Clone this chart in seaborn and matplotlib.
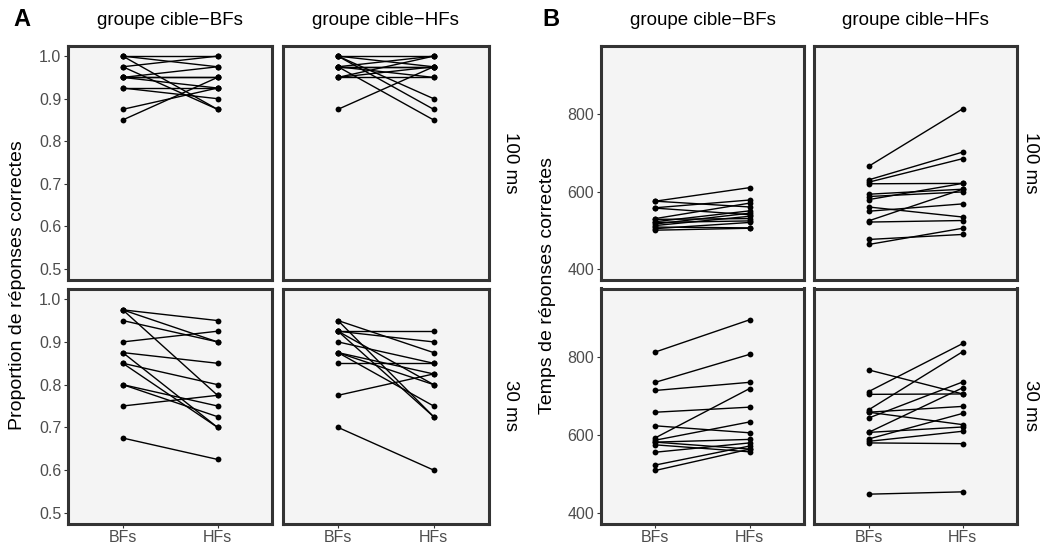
import matplotlib
matplotlib.use("Agg")
import matplotlib.pyplot as plt
import seaborn as sns
import numpy as np
import pandas as pd

# ---------------- data ----------------
conditions = ["BFs", "HFs"]
groups = ["groupe cible\u2212BFs", "groupe cible\u2212HFs"]
timings = ["100 ms", "30 ms"]

# Panel A : proportion of correct responses
accA_gBF_100_BF = [1.0, 1.0, 1.0, 0.975, 0.975, 0.95, 0.95, 0.95, 0.925, 0.925, 0.875, 0.85, 0.95]
accA_gBF_100_HF = [1.0, 0.975, 0.875, 1.0, 0.875, 0.975, 0.95, 0.925, 0.925, 0.9, 0.925, 0.95, 0.95]
accA_gHF_100_BF = [1.0, 1.0, 1.0, 1.0, 0.975, 0.975, 0.975, 0.975, 0.975, 0.95, 0.95, 0.875, 0.95]
accA_gHF_100_HF = [1.0, 0.975, 0.9, 0.875, 1.0, 0.975, 0.95, 0.85, 0.975, 1.0, 0.975, 0.975, 0.95]
accA_gBF_30_BF = [0.975, 0.975, 0.975, 0.95, 0.9, 0.875, 0.875, 0.85, 0.85, 0.8, 0.8, 0.75, 0.675]
accA_gBF_30_HF = [0.95, 0.9, 0.775, 0.9, 0.925, 0.85, 0.7, 0.8, 0.7, 0.75, 0.725, 0.775, 0.625]
accA_gHF_30_BF = [0.95, 0.95, 0.925, 0.925, 0.925, 0.925, 0.9, 0.875, 0.875, 0.875, 0.85, 0.775, 0.7]
accA_gHF_30_HF = [0.875, 0.725, 0.925, 0.9, 0.8, 0.725, 0.85, 0.825, 0.8, 0.75, 0.85, 0.825, 0.6]

# Panel B : response times of correct responses
rtB_gBF_100_BF = [575, 575, 558, 557, 530, 528, 522, 520, 516, 512, 508, 504, 500]
rtB_gBF_100_HF = [610, 560, 578, 540, 570, 530, 550, 524, 544, 536, 506, 520, 505]
rtB_gHF_100_BF = [665, 630, 624, 620, 593, 587, 579, 560, 549, 524, 521, 476, 463]
rtB_gHF_100_HF = [814, 702, 685, 621, 606, 599, 621, 534, 568, 606, 525, 489, 505]
rtB_gBF_30_BF = [814, 736, 715, 659, 624, 593, 587, 582, 582, 575, 556, 523, 509]
rtB_gBF_30_HF = [897, 808, 736, 672, 606, 720, 634, 589, 564, 557, 580, 572, 564]
rtB_gHF_30_BF = [768, 712, 705, 665, 659, 659, 644, 607, 607, 590, 584, 580, 448]
rtB_gHF_30_HF = [706, 836, 706, 815, 627, 674, 737, 722, 621, 656, 610, 578, 454]

yticksA = [0.5, 0.6, 0.7, 0.8, 0.9, 1.0]
yticksB = [400, 600, 800]

series = {
    ("A", 0, 0): (accA_gBF_100_BF, accA_gBF_100_HF),
    ("A", 0, 1): (accA_gHF_100_BF, accA_gHF_100_HF),
    ("A", 1, 0): (accA_gBF_30_BF, accA_gBF_30_HF),
    ("A", 1, 1): (accA_gHF_30_BF, accA_gHF_30_HF),
    ("B", 0, 0): (rtB_gBF_100_BF, rtB_gBF_100_HF),
    ("B", 0, 1): (rtB_gHF_100_BF, rtB_gHF_100_HF),
    ("B", 1, 0): (rtB_gBF_30_BF, rtB_gBF_30_HF),
    ("B", 1, 1): (rtB_gHF_30_BF, rtB_gHF_30_HF),
}

rows = []
for (panel, r, c), (bf, hf) in series.items():
    for s, (vb, vh) in enumerate(zip(bf, hf)):
        rows.append(dict(panel=panel, row=r, col=c, subject=s, cond=0, value=vb))
        rows.append(dict(panel=panel, row=r, col=c, subject=s, cond=1, value=vh))
df = pd.DataFrame(rows)

# ---------------- style ----------------
sns.set_theme(style="white")
plt.rcParams["font.family"] = ["Liberation Sans", "DejaVu Sans"]
plt.rcParams["text.color"] = "black"

W, H = 1045, 549
fig = plt.figure(figsize=(W / 100, H / 100), dpi=100)

col_px = {"A": [(68.3, 272.0), (283.0, 488.6)], "B": [(601.0, 804.0), (814.3, 1017.0)]}
row_px = [(45.5, 279.5), (288.5, 523.5)]
ylims = {"A": (0.475, 1.025), "B": (372.5, 977.5)}
yticks = {"A": yticksA, "B": yticksB}
ytlab = {"A": [f"{v:.1f}" for v in yticksA], "B": [str(v) for v in yticksB]}

tick_col = "#4D4D4D"
for panel in ["A", "B"]:
    for r in range(2):
        for c in range(2):
            x0, x1 = col_px[panel][c]
            y0, y1 = row_px[r]
            ax = fig.add_axes([x0 / W, 1 - y1 / H, (x1 - x0) / W, (y1 - y0) / H])
            sub = df[(df.panel == panel) & (df.row == r) & (df.col == c)]
            sns.lineplot(data=sub, x="cond", y="value", units="subject", estimator=None,
                         color="black", linewidth=1.0, marker="o", markersize=4.2,
                         markeredgewidth=0, ax=ax, legend=False, sort=False)
            ax.set_facecolor("#F4F4F4")
            ax.set_xlim(-0.575, 1.575)
            ax.set_ylim(*ylims[panel])
            ax.set_xlabel("")
            ax.set_ylabel("")
            for sp in ax.spines.values():
                sp.set_visible(True)
                sp.set_color("#333333")
                sp.set_linewidth(2.2)
            ax.set_xticks([0, 1])
            ax.set_yticks(yticks[panel])
            ax.tick_params(axis="both", which="both", length=3, width=0.8, color="#333333",
                           labelsize=11.5, labelcolor=tick_col, pad=2,
                           bottom=(r == 1), left=(c == 0))
            if r == 1:
                ax.set_xticklabels(conditions)
            else:
                ax.set_xticklabels([])
            if c == 0:
                ax.set_yticklabels(ytlab[panel])
            else:
                ax.set_yticklabels([])
            ax.grid(False)
            # column strip
            if r == 0:
                fig.text(((x0 + x1) / 2) / W, 1 - 20.5 / H, groups[c], ha="center", va="center",
                         fontsize=13.5, color="black")
            # row strip
            if c == 1:
                xr = 510 if panel == "A" else 1030
                fig.text(xr / W, 1 - ((y0 + y1) / 2) / H, timings[r], ha="center", va="center",
                         rotation=270, fontsize=13.5, color="black")

# axis titles
fig.text(18 / W, 1 - 285 / H, "Proportion de r\u00e9ponses correctes", rotation=90,
         ha="center", va="center", fontsize=14, color="black")
fig.text(548 / W, 1 - 285 / H, "Temps de r\u00e9ponses correctes", rotation=90,
         ha="center", va="center", fontsize=14, color="black")

# panel letters
fig.text(22 / W, 1 - 19 / H, "A", ha="center", va="center", fontsize=17,
         fontweight="bold", color="black")
fig.text(551 / W, 1 - 19 / H, "B", ha="center", va="center", fontsize=17,
         fontweight="bold", color="black")

fig.savefig("out.png", dpi=100, facecolor="white")
